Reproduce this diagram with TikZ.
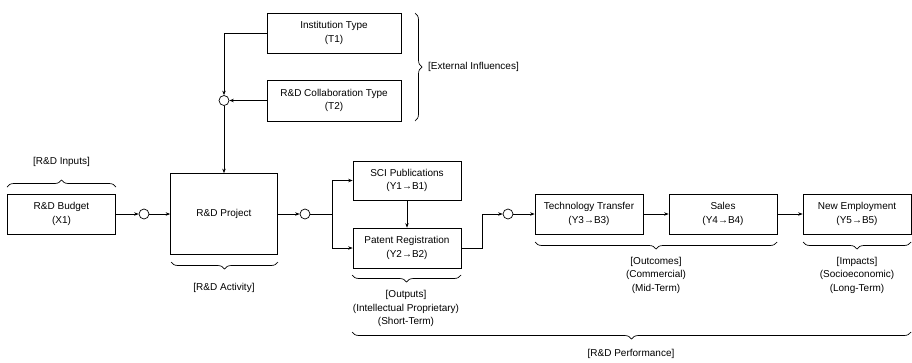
\documentclass[tikz,border=0pt]{standalone}
\usepackage{fontspec}
\setmainfont{Liberation Sans}
\usetikzlibrary{arrows.meta,decorations.pathreplacing}

\begin{document}
\begin{tikzpicture}[
    x=1pt,y=-1pt,
    font=\fontsize{10}{13.5}\selectfont,
    module/.style={rectangle,draw,line width=0.7pt,minimum width=108pt,minimum height=40pt,align=center,inner sep=2pt},
    junction/.style={circle,draw,line width=0.7pt,minimum size=10pt,inner sep=0pt},
    arrow/.style={-{Stealth[length=4.5pt,width=3.5pt]},line width=0.7pt},
    brace/.style={decorate,decoration={brace,amplitude=7pt},line width=0.7pt},
    group/.style={align=center,inner sep=0pt}
]
    \useasboundingbox (0,0) rectangle (912,362);

    % Inputs and activity
    \node[module] (budget) at (61.5,214) {R\&D Budget\\(X1)};
    \node[module,minimum width=107pt,minimum height=81pt] (project) at (224,214) {R\&D Project};

    % External influences
    \node[module,minimum width=134pt] (inst) at (334,33) {Institution Type\\(T1)};
    \node[module,minimum width=134pt,minimum height=41pt] (collab) at (334,100.5) {R\&D Collaboration Type\\(T2)};

    % Outputs
    \node[module,minimum height=39pt] (sci) at (407,180.5) {SCI Publications\\(Y1→B1)};
    \node[module] (patent) at (407,248) {Patent Registration\\(Y2→B2)};

    % Outcomes and impacts
    \node[module] (tech) at (589,214) {Technology Transfer\\(Y3→B3)};
    \node[module] (sales) at (723,214) {Sales\\(Y4→B4)};
    \node[module] (employ) at (857,214) {New Employment\\(Y5→B5)};

    % Junctions
    \node[junction] (sum0) at (144,214) {};
    \node[junction] (sum1) at (224,100.5) {};
    \node[junction] (sum2) at (305,214) {};
    \node[junction] (sum3) at (508,214) {};
    \coordinate (split) at (332,214);
    \coordinate (bend) at (482,214);

    % Arrows
    \draw[arrow] (budget) -- (sum0);
    \draw[arrow] (sum0) -- (project);
    \draw[arrow] (inst.west) -| (sum1.north);
    \draw[arrow] (collab) -- (sum1);
    \draw[arrow] (sum1) -- (project);
    \draw[arrow] (project) -- (sum2);
    \draw[line width=0.7pt] (sum2) -- (split);
    \draw[arrow] (split) |- (sci.west);
    \draw[arrow] (split) |- (patent.west);
    \draw[arrow] (sci) -- (patent);
    \draw[arrow] (patent.east) -| (bend) -- (sum3);
    \draw[arrow] (sum3) -- (tech);
    \draw[arrow] (tech) -- (sales);
    \draw[arrow] (sales) -- (employ);

    % Group labels
    \node[group] (inputs) at (61.5,162) {[R\&D Inputs]};
    \node[group] (activity) at (224,288) {[R\&D Activity]};
    \node[group,anchor=west] (external) at (428,67) {[External Influences]};
    \node[group] (outputs) at (406,308.5) {[Outputs]\\(Intellectual Proprietary)\\(Short-Term)};
    \node[group] (outcomes) at (656,275) {[Outcomes]\\(Commercial)\\(Mid-Term)};
    \node[group] (impacts) at (857,275) {[Impacts]\\(Socioeconomic)\\(Long-Term)};
    \node[group] (performance) at (631,354) {[R\&D Performance]};

    % Braces
    \draw[brace] (7,187) -- (116,187);
    \draw[brace] (278,262) -- (171,262);
    \draw[brace] (415,13) -- (415,121);
    \draw[brace] (461,275) -- (352,275);
    \draw[brace] (777,242) -- (535,242);
    \draw[brace] (911,242) -- (803,242);
    \draw[brace] (911,332) -- (352,332);
\end{tikzpicture}
\end{document}
